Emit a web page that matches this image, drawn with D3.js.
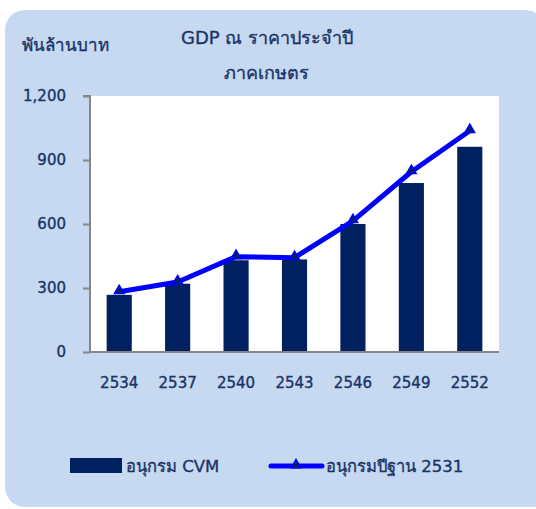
<!DOCTYPE html>
<html lang="th">
<head>
  <meta charset="UTF-8" />
  <title>GDP ณ ราคาประจำปี ภาคเกษตร</title>
  <script src="https://d3js.org/d3.v7.min.js"></script>
  <style>
    body { margin: 0; background: white; }
    svg { display: block; }
    text {
      font-family: Tahoma, "DejaVu Sans", "Noto Sans", sans-serif;
      fill: #1a3366;
      stroke: #1a3366;
      stroke-width: 0.35px;
    }
    .axis path, .axis line { stroke: #868686; stroke-width: 2px; }
    .axis text { font-size: 15px; fill: #1a3366; }
  </style>
</head>
<body>
<svg width="536" height="509"></svg>
<script>
  // data
  const years = ["2534", "2537", "2540", "2543", "2546", "2549", "2552"];
  const cvmValues = [268, 320, 430, 434, 600, 792, 962];
  const base2531Values = [282, 328, 447, 442, 615, 845, 1037];
  const yTicks = [0, 300, 600, 900, 1200];
  const seriesNames = ["อนุกรม CVM", "อนุกรมปีฐาน 2531"];

  const svg = d3.select("svg");
  const margin = { top: 96, left: 90, right: 37, bottom: 157 };
  const width = 536, height = 509;

  // panel background, bottom-right corner runs off the picture
  const r = 20, px = 5, py = 10, pw = 540, ph = 497;
  const p = d3.path();
  p.moveTo(px + r, py);
  p.lineTo(px + pw - r, py);
  p.arcTo(px + pw, py, px + pw, py + r, r);
  p.lineTo(px + pw, py + ph);
  p.lineTo(px + r, py + ph);
  p.arcTo(px, py + ph, px, py + ph - r, r);
  p.lineTo(px, py + r);
  p.arcTo(px, py, px + r, py, r);
  p.closePath();
  svg.append("path").attr("d", p.toString()).attr("fill", "#c6d9f0");

  const x = d3.scaleBand()
    .domain(years)
    .range([margin.left, width - margin.right])
    .paddingInner(0.57)
    .paddingOuter(0.285);

  const y = d3.scaleLinear()
    .domain([0, 1200])
    .range([height - margin.bottom, margin.top]);

  // plot area
  svg.append("rect")
    .attr("x", margin.left)
    .attr("y", margin.top)
    .attr("width", width - margin.right - margin.left)
    .attr("height", y(0) - margin.top)
    .attr("fill", "white");

  // bars
  svg.selectAll(".bar")
    .data(cvmValues)
    .enter()
    .append("rect")
    .attr("class", "bar")
    .attr("x", (d, i) => x(years[i]))
    .attr("y", d => y(d))
    .attr("width", x.bandwidth())
    .attr("height", d => y(0) - y(d) + 1)
    .attr("fill", "#002060");

  // y axis
  const yAxis = svg.append("g")
    .attr("class", "axis")
    .attr("transform", `translate(${margin.left},0)`)
    .call(d3.axisLeft(y).tickValues(yTicks).tickSize(7).tickPadding(17)
      .tickFormat(d3.format(",")));
  yAxis.select(".domain").attr("d", `M-7,${y(1200)}H0V${y(0)}`);

  // x axis
  const xAxis = svg.append("g")
    .attr("class", "axis")
    .attr("transform", `translate(0,${y(0)})`)
    .call(d3.axisBottom(x).tickSize(0).tickPadding(25));
  xAxis.select(".domain").attr("d", `M${margin.left},0H${width - margin.right}`);

  // line series
  const cx = (d, i) => x(years[i]) + x.bandwidth() / 2;
  svg.append("path")
    .datum(base2531Values)
    .attr("fill", "none")
    .attr("stroke", "#0000ff")
    .attr("stroke-width", 5)
    .attr("stroke-linejoin", "round")
    .attr("d", d3.line().x(cx).y(d => y(d)));

  const tri = d3.symbol().type(d3.symbolTriangle).size(40);
  svg.selectAll(".marker")
    .data(base2531Values)
    .enter()
    .append("path")
    .attr("class", "marker")
    .attr("transform", (d, i) => `translate(${cx(d, i)},${y(d) - 1})`)
    .attr("d", tri)
    .attr("fill", "#002060")
    .attr("stroke", "#0000ff")
    .attr("stroke-width", 1.5);

  // titles
  svg.append("text")
    .attr("x", 267).attr("y", 44)
    .attr("text-anchor", "middle")
    .style("font-size", "18px")
    .text("GDP ณ ราคาประจำปี");
  svg.append("text")
    .attr("x", 266).attr("y", 79)
    .attr("text-anchor", "middle")
    .style("font-size", "18px")
    .text("ภาคเกษตร");
  svg.append("text")
    .attr("x", 22).attr("y", 51)
    .style("font-size", "17px")
    .text("พันล้านบาท");

  // legend
  const legY = 466;
  svg.append("rect")
    .attr("x", 70).attr("y", legY - 8)
    .attr("width", 52).attr("height", 15)
    .attr("fill", "#002060");
  svg.append("text")
    .attr("x", 126).attr("y", legY + 6)
    .style("font-size", "16.5px")
    .text(seriesNames[0]);

  svg.append("line")
    .attr("x1", 271).attr("x2", 322)
    .attr("y1", legY).attr("y2", legY)
    .attr("stroke", "#0000ff")
    .attr("stroke-width", 5)
    .attr("stroke-linecap", "round");
  svg.append("path")
    .attr("transform", `translate(296,${legY - 1})`)
    .attr("d", tri)
    .attr("fill", "#002060")
    .attr("stroke", "#0000ff")
    .attr("stroke-width", 1.5);
  svg.append("text")
    .attr("x", 326).attr("y", legY + 6)
    .style("font-size", "16.5px")
    .text(seriesNames[1]);
</script>
</body>
</html>
